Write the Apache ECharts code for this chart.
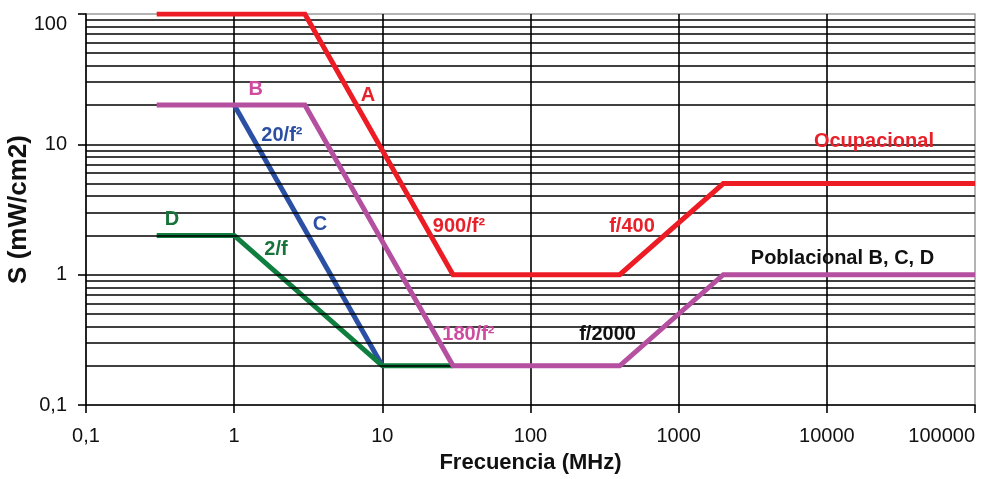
<!DOCTYPE html>
<html>
<head>
<meta charset="utf-8">
<script src="https://cdn.jsdelivr.net/npm/echarts@6/dist/echarts.min.js"></script>
<style>
  html, body { margin: 0; padding: 0; background: #ffffff; }
  #chart { width: 991px; height: 479px; }
</style>
</head>
<body>
<div id="chart"></div>
<script>
// Exposure limits, power density S (mW/cm2) against frequency (MHz)
const freqA = [0.3, 3, 30, 400, 2000, 100000];   // A: occupational
const densA = [100, 100, 1, 1, 5, 5];
const freqB = [0.3, 3, 30, 400, 2000, 100000];   // B: general public
const densB = [20, 20, 0.2, 0.2, 1, 1];
const freqC = [1, 10];                            // C
const densC = [20, 0.2];
const freqD = [0.3, 1, 10, 30];                   // D
const densD = [2, 2, 0.2, 0.2];

// Annotations placed in data coordinates
const noteText = ['A', 'B', '20/f²', 'C', 'D', '2/f', '900/f²', 'f/400', 'Ocupacional', 'Poblacional B, C, D', '180/f²', 'f/2000'];
const noteFreq = [8.0, 1.40, 2.10, 3.80, 0.381, 1.915, 32.9, 484, 20800, 12750, 38.1, 331];
const noteDens = [23.5, 26.3, 11.7, 2.43, 2.65, 1.55, 2.36, 2.36, 10.6, 1.34, 0.350, 0.350];
const noteKind = ['A', 'B', 'C', 'C', 'D', 'D', 'A', 'A', 'A', 'K', 'B', 'K'];

// Horizontal grid: every 1..9 multiple of each decade inside the axis range
const gridDecades = [0.1, 1, 10];
const gridMultiples = [1, 2, 3, 4, 5, 6, 7, 8, 9];

const lineColor = { A: '#ED1C24', B: '#B54F9F', C: '#2B50A3', D: '#0F7E3F' };
const textColor = { A: '#E8202A', B: '#CE4C9F', C: '#2B50A3', D: '#16733A', K: '#111111' };

const FONT = "'Liberation Sans', Arial, sans-serif";

const pairs = (xs, ys) => xs.map((x, i) => [x, ys[i]]);

const gridValues = [];
gridDecades.forEach(d => gridMultiples.forEach(m => {
  const v = +(m * d).toPrecision(6);
  if (v > 0.1 && v < 100) gridValues.push(v);
}));

function limitSeries(name, xs, ys, key, z) {
  return {
    name: name,
    type: 'line',
    data: pairs(xs, ys),
    symbol: 'none',
    z: z,
    silent: true,
    lineStyle: { color: lineColor[key], width: 5, join: 'miter', cap: 'butt' },
    animation: false
  };
}

const chart = echarts.init(document.getElementById('chart'), null, { renderer: 'canvas' });

chart.setOption({
  backgroundColor: '#ffffff',
  animation: false,
  grid: {
    left: 86, right: 16, top: 14, bottom: 74,
    containLabel: false,
    outerBoundsMode: 'none',
    show: true, borderColor: '#9a9a9a', borderWidth: 1.5, backgroundColor: 'transparent'
  },
  xAxis: {
    type: 'log',
    logBase: 10,
    min: 0.1,
    max: 100000,
    name: 'Frecuencia (MHz)',
    nameLocation: 'middle',
    nameGap: 47,
    nameMoveOverlap: false,
    nameTextStyle: { fontFamily: FONT, fontWeight: 'bold', fontSize: 22, color: '#111' },
    axisLine: { show: true, onZero: false, lineStyle: { color: '#000', width: 1.6 } },
    axisTick: { show: true, length: 8, lineStyle: { color: '#000', width: 1.6 } },
    axisLabel: {
      fontFamily: FONT, fontSize: 20, color: '#111', margin: 21,
      alignMaxLabel: 'right',
      formatter: v => String(v).replace('.', ',')
    },
    splitLine: { show: true, showMinLine: false, showMaxLine: false, lineStyle: { color: '#000', width: 1.6 } }
  },
  yAxis: {
    type: 'log',
    logBase: 10,
    min: 0.1,
    max: 100,
    name: 'S (mW/cm2)',
    nameLocation: 'middle',
    nameGap: 54,
    nameMoveOverlap: false,
    nameRotate: 90,
    nameTextStyle: { fontFamily: FONT, fontWeight: 'bold', fontSize: 26, color: '#111' },
    axisLine: { show: true, onZero: false, lineStyle: { color: '#000', width: 1.6 } },
    axisTick: { show: true, length: 8, lineStyle: { color: '#000', width: 1.6 } },
    axisLabel: {
      fontFamily: FONT, fontSize: 20, color: '#111', margin: 19,
      verticalAlignMaxLabel: 'top',
      formatter: v => String(v).replace('.', ',')
    },
    splitLine: { show: false }
  },
  series: [
    {
      name: 'grid',
      type: 'line',
      data: [],
      z: 1,
      silent: true,
      markLine: {
        silent: true,
        symbol: ['none', 'none'],
        label: { show: false },
        lineStyle: { color: '#000', width: 1.6, type: 'solid' },
        data: gridValues.map(v => ({ yAxis: v }))
      }
    },
    limitSeries('C', freqC, densC, 'C', 3),
    limitSeries('D', freqD, densD, 'D', 4),
    limitSeries('B', freqB, densB, 'B', 5),
    limitSeries('A', freqA, densA, 'A', 6),
    {
      name: 'notes',
      type: 'scatter',
      symbolSize: 0,
      z: 10,
      silent: true,
      data: noteText.map((t, i) => ({
        value: [noteFreq[i], noteDens[i]],
        label: {
          show: true,
          position: 'inside',
          formatter: t,
          color: textColor[noteKind[i]],
          textBorderWidth: 0,
          textBorderColor: 'transparent',
          opacity: 1,
          fontFamily: FONT,
          fontWeight: 'bold',
          fontSize: 20,
          align: 'center',
          verticalAlign: 'middle'
        }
      }))
    }
  ]
});
</script>
</body>
</html>
